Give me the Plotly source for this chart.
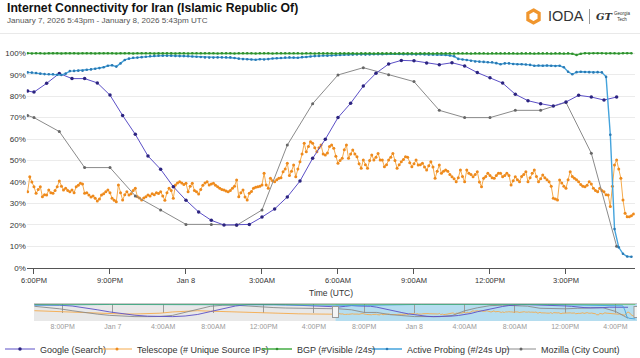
import plotly.graph_objects as go
import pandas as pd

# ---------------- DATA ----------------
google_times = ["2026-01-07 17:45"] + list(
    pd.date_range("2026-01-07 18:00", periods=47, freq="30min").strftime("%Y-%m-%d %H:%M"))
google_values = [82.4, 81.9, 86.0, 90.6, 88.2, 88.2, 86.2, 80.5, 71.0, 62.2, 52.1, 45.9, 37.8,
                 31.5, 26.0, 22.1, 19.9, 19.9, 20.2, 23.6, 27.4, 33.0, 40.4,
                 51.0, 59.9, 70.0, 76.7, 84.7, 90.7, 95.0, 96.7, 96.5, 95.5,
                 94.7, 95.6, 94.1, 91.0, 88.6, 86.1, 80.9, 77.9, 76.5, 75.4,
                 77.3, 80.4, 79.6, 78.2, 79.6]

mozilla_times = ["2026-01-07 17:45"] + list(
    pd.date_range("2026-01-07 18:00", periods=24, freq="60min").strftime("%Y-%m-%d %H:%M"))
mozilla_values = [71.0, 70.0, 63.5, 46.7, 46.7, 33.5, 26.9, 20.2, 20.2, 19.8, 26.9, 57.2,
                  76.5, 89.9, 93.3, 90.0, 86.8, 73.4, 70.0, 70.0, 73.4, 73.4, 77.1, 53.4, 10.0]

telescope_times = list(pd.date_range("2026-01-07 17:45", periods=288, freq="5min").strftime("%Y-%m-%d %H:%M"))
telescope_values = [
    35.4, 42.4, 40.0, 37.8, 34.7, 36.5, 37.8, 33.1, 34.0, 33.9, 36.2, 35.0,
    34.7, 36.0, 37.8, 40.4, 38.0, 36.2, 37.0, 36.0, 35.4, 36.2, 35.0, 37.8,
    38.5, 39.4, 39.0, 34.7, 35.0, 33.9, 33.0, 33.5, 32.4, 31.1, 32.0, 33.9,
    34.5, 35.4, 36.2, 35.0, 32.4, 31.5, 30.8, 38.6, 35.0, 31.6, 34.0, 35.4,
    33.9, 34.5, 36.0, 37.0, 33.1, 32.5, 31.6, 32.5, 33.1, 33.9, 33.5, 34.5,
    34.0, 35.0, 34.6, 35.4, 33.5, 31.5, 35.0, 37.0, 36.0, 32.4, 38.6, 39.5,
    40.1, 39.5, 38.8, 39.4, 35.4, 38.0, 39.4, 36.0, 35.4, 34.4, 36.5, 38.5,
    39.5, 40.1, 38.6, 39.0, 39.4, 38.5, 37.8, 37.0, 36.5, 36.2, 35.8, 35.4,
    36.0, 37.0, 38.0, 40.9, 33.1, 35.0, 36.2, 33.0, 31.6, 34.7, 35.5, 37.0,
    37.5, 37.8, 38.0, 38.6, 44.0, 38.6, 37.0, 41.7, 40.5, 40.1, 41.0, 41.7,
    42.0, 44.8, 46.0, 48.7, 43.0, 45.0, 47.9, 42.4, 46.0, 49.4, 53.0, 58.0,
    54.1, 56.5, 58.8, 58.0, 56.0, 54.1, 56.0, 57.2, 53.0, 52.6, 53.5, 56.5,
    57.2, 55.7, 52.0, 48.7, 50.0, 51.0, 55.0, 57.2, 51.0, 53.0, 54.9, 53.0,
    51.8, 48.5, 46.4, 50.2, 48.0, 46.4, 50.0, 52.6, 50.2, 51.5, 53.3, 50.2,
    50.2, 47.1, 48.0, 50.2, 51.5, 53.3, 50.0, 46.4, 48.0, 49.4, 50.5, 51.8,
    51.5, 49.0, 47.1, 48.5, 50.2, 47.9, 48.0, 48.7, 47.0, 45.6, 47.5, 49.4,
    47.0, 41.7, 45.0, 47.9, 44.0, 45.0, 45.6, 45.0, 43.5, 42.4, 41.5, 40.1,
    42.0, 45.6, 42.5, 40.1, 45.6, 44.0, 43.5, 42.4, 43.5, 44.8, 40.0, 37.8,
    41.7, 42.5, 44.0, 43.0, 42.0, 41.7, 43.0, 44.0, 44.0, 42.4, 43.0, 44.0,
    43.0, 38.6, 40.5, 42.4, 41.0, 40.1, 42.5, 43.5, 44.8, 40.1, 42.0, 44.0,
    45.6, 42.5, 40.1, 41.5, 43.2, 42.0, 41.0, 40.1, 38.0, 32.4, 32.0, 31.6,
    40.9, 39.5, 38.0, 37.0, 41.0, 44.8, 42.5, 41.7, 41.0, 40.1, 38.8, 38.0,
    37.8, 38.5, 40.1, 39.0, 37.0, 36.0, 35.4, 37.0, 36.0, 35.4, 34.0, 33.9,
    28.5, 38.0, 47.9, 50.2, 46.0, 41.7, 31.6, 25.4, 23.8, 23.8, 24.2, 25.0]

probing_times = list(pd.date_range("2026-01-07 17:45", periods=144, freq="10min").strftime("%Y-%m-%d %H:%M"))
probing_values = [
    91.1, 91.0, 90.8, 90.5, 90.3, 90.2,
    90.2, 90.0, 89.9, 90.5, 91.7, 91.8,
    91.9, 91.9, 92.3, 92.5, 92.8, 93.1,
    93.5, 94.2, 94.4, 93.8, 95.3, 96.9,
    97.5, 97.9, 98.0, 98.2, 98.4, 98.6,
    98.8, 98.9, 98.9, 98.9, 98.9, 98.8,
    98.7, 98.7, 98.6, 98.5, 98.4, 98.3,
    98.1, 98.0, 98.0, 98.1, 98.1, 98.1,
    98.1, 97.8, 97.5, 97.3, 97.2, 97.1,
    97.0, 97.2, 97.1, 97.3, 97.6, 97.7,
    97.8, 98.0, 98.1, 98.0, 97.9, 98.2,
    98.3, 98.5, 98.7, 98.8, 99.0, 98.9,
    99.0, 99.1, 99.2, 99.3, 99.3, 99.4,
    99.5, 99.5, 99.4, 99.5, 99.6, 99.6,
    99.6, 99.7, 99.8, 99.8, 99.7, 99.6,
    99.6, 99.6, 99.5, 99.6, 99.5, 99.4,
    99.4, 99.3, 99.3, 99.2, 99.0, 98.6,
    97.4, 97.1, 96.9, 96.5, 96.2, 96.1,
    96.0, 95.8, 95.8, 95.4, 94.9, 95.3,
    95.3, 95.0, 94.9, 94.9, 94.8, 94.6,
    94.2, 94.3, 94.2, 94.3, 94.2, 94.1,
    94.2, 93.5, 91.4, 90.2, 91.2, 91.4,
    91.3, 91.2, 91.1, 91.2, 91.1, 89.0,
    62.0, 18.0, 9.5, 6.5, 5.2, 5.1]

bgp_times = list(pd.date_range("2026-01-07 17:45", periods=144, freq="10min").strftime("%Y-%m-%d %H:%M"))
bgp_values = [
    100.0, 99.9, 100.0, 100.0, 99.9, 100.0,
    100.0, 100.0, 99.9, 100.0, 100.0, 100.0,
    99.9, 100.0, 100.0, 100.0, 99.9, 100.0,
    100.0, 100.0, 100.0, 99.9, 100.0, 100.0,
    100.0, 99.9, 100.0, 100.0, 100.0, 100.0,
    99.9, 100.0, 100.0, 100.0, 100.0, 99.9,
    100.0, 100.0, 99.9, 100.0, 100.0, 100.0,
    100.0, 100.0, 100.0, 99.9, 100.0, 100.0,
    100.0, 99.9, 100.0, 100.0, 100.0, 100.0,
    99.9, 100.0, 100.0, 100.0, 99.9, 100.0,
    100.0, 100.0, 100.0, 100.0, 100.0, 99.9,
    100.0, 100.0, 99.9, 100.0, 100.0, 100.0,
    100.0, 99.9, 100.0, 100.0, 100.0, 100.0,
    99.9, 100.0, 100.0, 100.0, 99.9, 100.0,
    100.0, 100.0, 100.0, 99.9, 100.0, 100.0,
    100.0, 100.0, 99.9, 100.0, 100.0, 100.0,
    99.9, 100.0, 100.0, 100.0, 100.0, 99.9,
    100.0, 100.0, 100.0, 99.9, 100.0, 100.0,
    100.0, 99.9, 100.0, 100.0, 100.0, 100.0,
    100.0, 100.0, 99.9, 100.0, 100.0, 100.0,
    99.9, 100.0, 100.0, 100.0, 99.9, 100.0,
    100.0, 99.9, 100.0, 99.8, 99.2, 99.8,
    100.0, 99.9, 100.0, 100.0, 100.0, 99.9,
    100.0, 100.0, 99.9, 100.0, 100.0, 100.0]

# previous day (navigator only), hourly
prev_times = list(pd.date_range("2026-01-06 17:45", periods=24, freq="60min").strftime("%Y-%m-%d %H:%M"))
prev_google = [96, 95, 93, 88, 78, 64, 50, 38, 29, 23, 20, 20, 24, 34, 52, 72, 88, 97, 99, 98, 96, 93, 89, 85]
prev_mozilla = [86, 80, 70, 58, 46, 36, 28, 22, 20, 20, 21, 28, 48, 70, 86, 93, 93, 88, 82, 78, 75, 74, 73, 72]
prev_telescope = [58, 55, 50, 46, 42, 40, 38, 37, 37, 38, 42, 50, 56, 58, 55, 52, 50, 48, 46, 43, 40, 38, 37, 36]
prev_probing = [93, 93, 94, 95, 96, 97, 98, 98, 98, 98, 98, 98, 99, 99, 99, 99, 98, 97, 96, 95, 94, 93, 92, 91]
prev_bgp = [100, 100, 100, 100, 100, 100, 100, 100, 100, 100, 100, 100,
            100, 100, 100, 100, 100, 100, 100, 100, 100, 100, 100, 100]

y_tick_values = [0, 10, 20, 30, 40, 50, 60, 70, 80, 90, 100]
y_tick_labels = ["0%", "10%", "20%", "30%", "40%", "50%", "60%", "70%", "80%", "90%", "100%"]
x_tick_values = ["2026-01-07 18:00", "2026-01-07 21:00", "2026-01-08 00:00", "2026-01-08 03:00",
                 "2026-01-08 06:00", "2026-01-08 09:00", "2026-01-08 12:00", "2026-01-08 15:00"]
x_tick_labels = ["6:00PM", "9:00PM", "Jan 8", "3:00AM", "6:00AM", "9:00AM", "12:00PM", "3:00PM"]
nav_tick_values = ["2026-01-06 20:00", "2026-01-07 00:00", "2026-01-07 04:00", "2026-01-07 08:00",
                   "2026-01-07 12:00", "2026-01-07 16:00", "2026-01-07 20:00", "2026-01-08 00:00",
                   "2026-01-08 04:00", "2026-01-08 08:00", "2026-01-08 12:00", "2026-01-08 16:00"]
nav_tick_labels = ["8:00PM", "Jan 7", "4:00AM", "8:00AM", "12:00PM", "4:00PM",
                   "8:00PM", "Jan 8", "4:00AM", "8:00AM", "12:00PM", "4:00PM"]

# ---------------- STYLE ----------------
W, H = 640, 358
FONT = "Liberation Sans, Arial, Helvetica, sans-serif"

def px(x):
    return x / W

def py(y):
    return (H - y) / H

C_GOOGLE, M_GOOGLE = "#5b4fc6", "#2c2480"
C_TELE, M_TELE = "#f5aa4c", "#ee8a1c"
C_BGP, M_BGP = "#45ad45", "#2f8f2f"
C_AP, M_AP = "#44a3dc", "#2a79b3"
C_MOZ, M_MOZ = "#8a8a8a", "#666666"

fig = go.Figure()

series = [
    ("Telescope (# Unique Source IPs)", telescope_times, telescope_values, prev_telescope, C_TELE, M_TELE, 1.0, 3.0, "legend2"),
    ("Mozilla (City Count)", mozilla_times, mozilla_values, prev_mozilla, C_MOZ, M_MOZ, 1.0, 3.0, "legend5"),
    ("Google (Search)", google_times, google_values, prev_google, C_GOOGLE, M_GOOGLE, 1.0, 3.5, "legend"),
    ("Active Probing (#/24s Up)", probing_times, probing_values, prev_probing, C_AP, M_AP, 1.4, 2.6, "legend4"),
    ("BGP (#Visible /24s)", bgp_times, bgp_values, prev_bgp, C_BGP, M_BGP, 1.4, 2.6, "legend3"),
]

for name, xs, ys, prev, lc, mc, lw, ms, leg in series:
    fig.add_trace(go.Scatter(
        x=xs, y=ys, mode="lines+markers", name=name,
        line=dict(color=lc, width=lw), marker=dict(color=mc, size=ms),
        xaxis="x", yaxis="y", legend=leg, hoverinfo="skip"))
    fig.add_trace(go.Scatter(
        x=prev_times + xs, y=prev + ys, mode="lines", showlegend=False,
        line=dict(color=lc, width=0.9), xaxis="x2", yaxis="y2", hoverinfo="skip"))

main_x = [px(26.8), px(634.8)]
main_y = [py(267.7), py(45.8)]
nav_x = [px(34), px(637)]
nav_y = [py(321), py(303.5)]

legend_common = dict(orientation="h", yanchor="middle", xanchor="left",
                     font=dict(family=FONT, size=9, color="#333"),
                     bgcolor="rgba(0,0,0,0)", borderwidth=0, y=py(349),
                     itemclick=False)

fig.update_layout(
    width=W, height=H,
    margin=dict(l=0, r=0, t=0, b=0, autoexpand=False),
    paper_bgcolor="white", plot_bgcolor="white",
    font=dict(family=FONT, color="#333"),
    xaxis=dict(domain=main_x, type="date",
               range=["2026-01-07 17:43", "2026-01-08 17:43"],
               tickvals=x_tick_values, ticktext=x_tick_labels,
               showgrid=False, zeroline=False, showline=True, linecolor="#555", linewidth=1,
               ticks="outside", ticklen=5, tickcolor="#555",
               tickfont=dict(size=7.5, color="#333"), anchor="y", automargin=False),
    yaxis=dict(domain=main_y, range=[0, 103.5],
               tickvals=y_tick_values, ticktext=y_tick_labels,
               showgrid=True, gridcolor="#ebebeb", gridwidth=1, zeroline=False,
               showline=False, ticks="", tickfont=dict(size=8, color="#333"),
               anchor="x", automargin=False),
    xaxis2=dict(domain=nav_x, type="date",
                range=["2026-01-06 17:43", "2026-01-08 17:43"],
                tickvals=nav_tick_values, ticktext=nav_tick_labels,
                showgrid=True, gridcolor="#9a9a9a", griddash="dash", gridwidth=1,
                zeroline=False, showline=False, ticks="",
                tickfont=dict(size=7, color="#9a9a9a"), anchor="y2", automargin=False),
    yaxis2=dict(domain=nav_y, range=[-8, 104], showgrid=False, zeroline=False,
                showticklabels=False, showline=False, anchor="x2", automargin=False),
    legend=dict(legend_common, x=px(0)),
    legend2=dict(legend_common, x=px(97)),
    legend3=dict(legend_common, x=px(257)),
    legend4=dict(legend_common, x=px(367)),
    legend5=dict(legend_common, x=px(501)),
    showlegend=True,
)

shapes = []
# header separator
shapes.append(dict(type="line", xref="paper", yref="paper", x0=0, x1=1, y0=py(33.5), y1=py(33.5),
                   line=dict(color="#e9e9e9", width=1)))
# navigator regions
shapes.append(dict(type="rect", xref="x2", yref="paper", x0="2026-01-06 17:43", x1="2026-01-07 17:43",
                   y0=nav_y[0], y1=nav_y[1], fillcolor="rgba(190,190,190,0.35)", line=dict(width=0), layer="below"))
shapes.append(dict(type="rect", xref="x2", yref="paper", x0="2026-01-07 17:43", x1="2026-01-08 17:43",
                   y0=nav_y[0], y1=nav_y[1], fillcolor="rgba(70,170,215,0.40)", line=dict(width=0), layer="below"))
shapes.append(dict(type="line", xref="paper", yref="paper", x0=nav_x[0], x1=nav_x[1], y0=nav_y[1], y1=nav_y[1],
                   line=dict(color="#c8c8c8", width=1)))
# navigator handles
for hx in ["2026-01-07 17:43", "2026-01-08 17:43"]:
    shapes.append(dict(type="rect", xref="x2", yref="paper", x0=hx, x1=hx, y0=py(318), y1=py(306),
                       line=dict(color="#999", width=7), layer="above"))
    shapes.append(dict(type="rect", xref="x2", yref="paper", x0=hx, x1=hx, y0=py(317), y1=py(307),
                       line=dict(color="#f4f4f4", width=5), layer="above"))
# IODA logo hexagon ring
cx, cy, r = 533.5, 16.5, 6.5
hexpts = [(cx, cy - r), (cx + 0.866 * r, cy - r / 2), (cx + 0.866 * r, cy + r / 2),
          (cx, cy + r), (cx - 0.866 * r, cy + r / 2), (cx - 0.866 * r, cy - r / 2)]
path = "M " + " L ".join(f"{px(a):.5f},{py(b):.5f}" for a, b in hexpts) + " Z"
shapes.append(dict(type="path", xref="paper", yref="paper", path=path,
                   line=dict(color="#f0962e", width=3.2), fillcolor="rgba(0,0,0,0)"))
shapes.append(dict(type="line", xref="paper", yref="paper", x0=px(589.5), x1=px(589.5), y0=py(9), y1=py(24),
                   line=dict(color="#999", width=1)))
fig.update_layout(shapes=shapes)

ann = [
    dict(text="<b>Internet Connectivity for Iran (Islamic Republic Of)</b>", x=px(5), y=py(8.5),
         font=dict(size=12.2, color="#111"), xanchor="left"),
    dict(text="January 7, 2026 5:43pm - January 8, 2026 5:43pm UTC", x=px(5), y=py(21),
         font=dict(size=8.1, color="#555"), xanchor="left"),
    dict(text="Time (UTC)", x=(main_x[0] + main_x[1]) / 2, y=py(293),
         font=dict(size=8.5, color="#333"), xanchor="center"),
    dict(text="IODA", x=px(546), y=py(16.5), font=dict(size=14.5, color="#333"), xanchor="left"),
    dict(text="<b><i>GT</i></b>", x=px(594), y=py(16.5), font=dict(size=10, color="#333", family="DejaVu Serif, serif"),
         xanchor="left"),
    dict(text="Georgia<br>Tech", x=px(612), y=py(16.5), font=dict(size=4.5, color="#333"), xanchor="left"),
]
for a in ann:
    a.update(xref="paper", yref="paper", showarrow=False, yanchor="middle")
fig.update_layout(annotations=ann)

fig.write_html("out.html",
               config={"displayModeBar": False, "staticPlot": True},
               post_script="document.body.style.margin='0';document.body.style.padding='0';"
                           "document.documentElement.style.overflow='hidden';")
